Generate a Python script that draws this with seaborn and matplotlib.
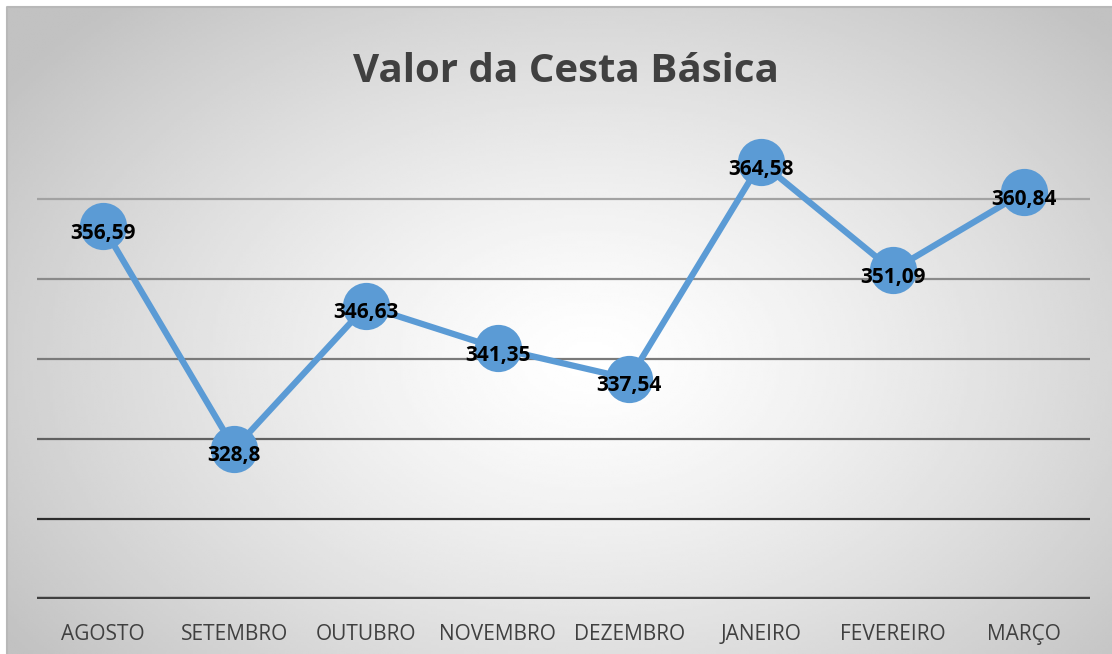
import seaborn as sb
import matplotlib.pyplot as plt
import pandas as pd
import numpy as np

# data
meses = ["AGOSTO", "SETEMBRO", "OUTUBRO", "NOVEMBRO", "DEZEMBRO",
         "JANEIRO", "FEVEREIRO", "MARÇO"]
valores = [356.59, 328.8, 346.63, 341.35, 337.54, 364.58, 351.09, 360.84]
rotulos = ["356,59", "328,8", "346,63", "341,35", "337,54", "364,58", "351,09", "360,84"]
grades = [320, 330, 340, 350, 360]
cores_grade = ["#2c2c2c", "#606060", "#7a7a7a", "#8a8a8a", "#a2a2a2"]

sb.set_style("white")
plt.rcParams['font.family'] = ['Open Sans', 'DejaVu Sans']

W, H = 1112, 654
fig = plt.figure(figsize=(W / 100, H / 100), dpi=100)
fig.patch.set_facecolor("white")

# radial gradient background of the chart area
bg = fig.add_axes([0, 0, 1, 1], zorder=0)
bg.set_xlim(0, W)
bg.set_ylim(H, 0)
bg.axis("off")
xx, yy = np.meshgrid(np.linspace(7, W, 400), np.linspace(7, H, 250))
r = np.sqrt(((xx - 590) / 620) ** 2 + ((yy - 360) / 420) ** 2)
r = np.clip(r / 1.15, 0, 1)
shade = 1.0 - 0.24 * r ** 1.3
bg.imshow(shade, cmap="gray", vmin=0, vmax=1, extent=(7, W, H, 7),
          aspect="auto", interpolation="bilinear")
bg.plot([7, 7, W], [H, 7, 7], color="#b8b8b8", lw=1.5)

# main axes: x from 37 to 1090 px, y from 119 (top) to 599 (bottom)
ax = fig.add_axes([37 / W, 1 - 599 / H, 1053 / W, 480 / H], zorder=1)
ax.patch.set_alpha(0)
for s in ax.spines.values():
    s.set_visible(False)

for g, c in zip(grades, cores_grade):
    ax.axhline(g, color=c, lw=1.6, zorder=1)
ax.axhline(310, color="#404040", lw=3.2, zorder=1)

df = pd.DataFrame({"mes": meses, "valor": valores, "x": range(len(meses))})
sb.lineplot(data=df, x="x", y="valor", ax=ax, color="#5B9BD5", lw=4.5,
            marker="o", markersize=34, markeredgewidth=0, zorder=3)

for xi, v, t in zip(df["x"], valores, rotulos):
    ax.annotate(t, (xi, v), xytext=(0, -5), textcoords="offset points",
                ha="center", va="center", fontsize=15, fontweight="bold",
                color="black", zorder=4)

ax.set_xlim(-0.5, len(meses) - 0.5)
ax.set_ylim(310, 370)
ax.set_yticks([])
ax.set_xticks(range(len(meses)))
ax.set_xticklabels(meses, fontsize=15, color="#404040")
ax.tick_params(axis="x", length=0, pad=18)
ax.set_xlabel("")
ax.set_ylabel("")

fig.text(566 / W, 1 - 71 / H, "Valor da Cesta Básica", ha="center", va="center",
         fontsize=29, fontweight="bold", color="#404040")

plt.savefig("out.png", dpi=100)
plt.close("all")
